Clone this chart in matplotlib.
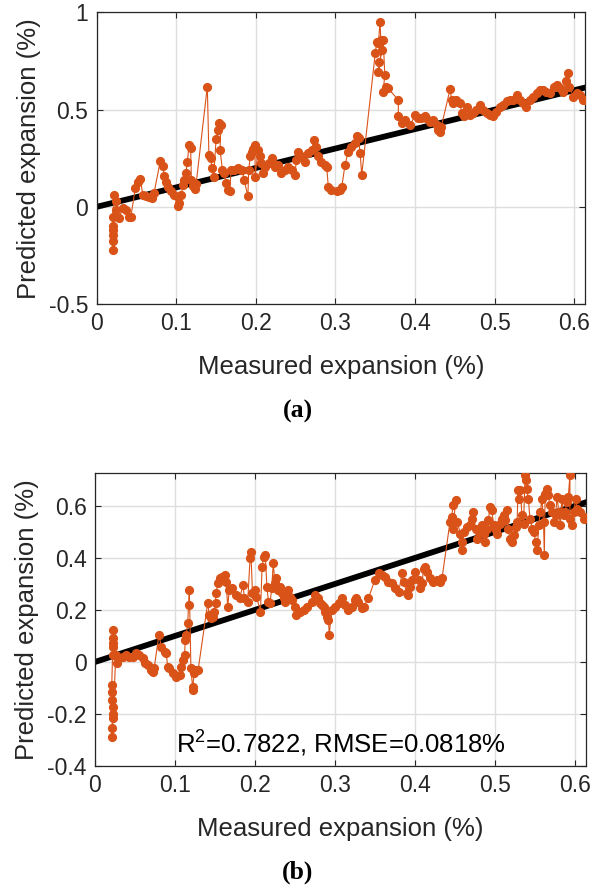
import matplotlib
matplotlib.use('Agg')
import matplotlib.pyplot as plt

plt.rcParams['font.family'] = ['Liberation Sans', 'DejaVu Sans']
plt.rcParams['axes.unicode_minus'] = False
plt.rcParams['mathtext.default'] = 'regular'

# panel (a): measured vs predicted expansion
meas_a = [0.020, 0.020, 0.020, 0.021, 0.021, 0.020, 0.022, 0.024, 0.024, 0.028, 0.033, 0.037, 0.041, 0.043,
          0.0485, 0.0515, 0.0548, 0.058, 0.062, 0.066, 0.0695, 0.072, 0.080, 0.083, 0.085, 0.087, 0.089, 0.093,
          0.0975, 0.102, 0.103, 0.102, 0.106, 0.109, 0.110, 0.112, 0.114, 0.116, 0.118, 0.119, 0.121, 0.123,
          0.125, 0.139, 0.141, 0.143, 0.145, 0.147, 0.150, 0.152, 0.154, 0.156, 0.155, 0.158, 0.160, 0.163,
          0.165, 0.167, 0.169, 0.173, 0.177, 0.181, 0.183, 0.185, 0.190, 0.191, 0.193, 0.195, 0.197, 0.199,
          0.199, 0.203, 0.205, 0.207, 0.209, 0.211, 0.216, 0.220, 0.222, 0.224, 0.228, 0.232, 0.237, 0.241,
          0.245, 0.249, 0.251, 0.253, 0.257, 0.262, 0.266, 0.270, 0.273, 0.276, 0.278, 0.282, 0.287, 0.289,
          0.291, 0.295, 0.302, 0.306, 0.308, 0.312, 0.316, 0.320, 0.325, 0.327, 0.329, 0.331, 0.333,
          0.350, 0.352, 0.354, 0.356, 0.357, 0.359, 0.355, 0.354, 0.360, 0.362, 0.360, 0.364, 0.366, 0.379,
          0.379, 0.383, 0.387, 0.394, 0.400, 0.404, 0.408, 0.412,
          0.414, 0.419, 0.423, 0.427, 0.429, 0.431, 0.433, 0.444, 0.446, 0.448, 0.452, 0.456, 0.459, 0.461,
          0.465, 0.469, 0.473, 0.477, 0.481, 0.486, 0.490, 0.494, 0.498, 0.502, 0.507, 0.511, 0.515, 0.519,
          0.523, 0.528, 0.532, 0.536, 0.540, 0.544, 0.548, 0.553, 0.557, 0.561, 0.565, 0.569, 0.574, 0.578,
          0.582, 0.586, 0.590, 0.592, 0.594, 0.599, 0.603, 0.607, 0.611, 0.613]
pred_a = [-0.221, -0.178, -0.144, -0.118, -0.101, -0.05, 0.062, 0.03, -0.015, -0.057, -0.005, -0.015, -0.05, -0.05,
          0.096, 0.13, 0.142, 0.062, 0.057, 0.053, 0.045, 0.07, 0.238, 0.212, 0.159, 0.13, 0.104, 0.079,
          0.062, 0.053, 0.019, 0.002, 0.062, 0.113, 0.139, 0.173, 0.233, 0.319, 0.302, 0.139, 0.105, 0.09,
          0.12, 0.619, 0.267, 0.252, 0.2, 0.156, 0.348, 0.396, 0.43, 0.42, 0.293, 0.19, 0.173, 0.122,
          0.087, 0.079, 0.19, 0.19, 0.2, 0.19, 0.19, 0.139, 0.057, 0.19, 0.26, 0.28, 0.3, 0.32,
          0.156, 0.293, 0.259, 0.225, 0.173, 0.207, 0.225, 0.25, 0.225, 0.207, 0.216, 0.173, 0.19, 0.207,
          0.19, 0.165, 0.242, 0.284, 0.259, 0.233, 0.276, 0.293, 0.345, 0.31, 0.259, 0.233, 0.216, 0.207,
          0.104, 0.087, 0.079, 0.087, 0.104, 0.216, 0.284, 0.31, 0.328, 0.362, 0.353, 0.276, 0.165,
          0.79, 0.85, 0.842, 0.953, 0.859, 0.808, 0.747, 0.696, 0.859, 0.679, 0.593, 0.619, 0.61, 0.55,
          0.465, 0.43, 0.448, 0.42, 0.473, 0.456, 0.456, 0.465,
          0.456, 0.439, 0.448, 0.422, 0.396, 0.387, 0.413, 0.605, 0.55, 0.533, 0.55, 0.533, 0.482, 0.465,
          0.516, 0.473, 0.482, 0.499, 0.525, 0.499, 0.482, 0.473, 0.465, 0.49, 0.516, 0.525, 0.542, 0.55,
          0.55, 0.576, 0.55, 0.533, 0.516, 0.55, 0.567, 0.585, 0.602, 0.602, 0.593, 0.585, 0.619, 0.628,
          0.611, 0.593, 0.645, 0.688, 0.619, 0.567, 0.585, 0.576, 0.55, 0.55]

# panel (b)
meas_b = [0.022, 0.022, 0.022, 0.022, 0.022, 0.021, 0.021, 0.021, 0.022, 0.022, 0.021, 0.021, 0.023,
          0.026, 0.028, 0.030, 0.035, 0.039, 0.043, 0.047, 0.051, 0.055, 0.060, 0.062, 0.066, 0.070, 0.072,
          0.074, 0.080, 0.083, 0.087, 0.089, 0.091, 0.093, 0.097, 0.101, 0.106, 0.108, 0.110, 0.112, 0.113,
          0.114, 0.116, 0.117, 0.118, 0.120, 0.122, 0.122, 0.124, 0.126, 0.129,
          0.141, 0.143, 0.145, 0.147, 0.149, 0.151, 0.151, 0.154, 0.156, 0.159, 0.162, 0.164, 0.166, 0.168,
          0.172, 0.176, 0.181, 0.185, 0.187, 0.191, 0.194, 0.195, 0.197, 0.200, 0.202, 0.207, 0.209, 0.211,
          0.213, 0.215, 0.217, 0.219, 0.221, 0.223, 0.225, 0.227, 0.229, 0.232, 0.234, 0.236, 0.238, 0.240,
          0.242, 0.244, 0.246, 0.250, 0.252, 0.257, 0.261, 0.265, 0.271, 0.275, 0.279, 0.282, 0.284, 0.286,
          0.288, 0.290, 0.292, 0.293, 0.296, 0.300, 0.305, 0.309, 0.313, 0.317, 0.321, 0.325, 0.327, 0.329,
          0.334, 0.336, 0.342, 0.350, 0.355, 0.359, 0.363, 0.367, 0.371, 0.375, 0.380, 0.384, 0.386, 0.390,
          0.392, 0.394, 0.396, 0.400, 0.405, 0.407, 0.409, 0.411, 0.413, 0.415, 0.419, 0.423, 0.428, 0.432,
          0.434, 0.444, 0.446, 0.448, 0.451, 0.448, 0.453, 0.457, 0.459, 0.459, 0.461, 0.465, 0.469, 0.471,
          0.473, 0.476, 0.478, 0.480, 0.484, 0.486, 0.488, 0.490, 0.492, 0.494, 0.496, 0.499, 0.501, 0.503,
          0.507, 0.509, 0.511, 0.513, 0.515, 0.517, 0.519, 0.522, 0.524, 0.526, 0.528, 0.529, 0.530, 0.532,
          0.534, 0.536, 0.538, 0.539, 0.540, 0.542, 0.544, 0.547, 0.549, 0.551, 0.553, 0.555, 0.557, 0.559,
          0.561, 0.562, 0.563, 0.565, 0.567, 0.569, 0.572, 0.574, 0.576, 0.578, 0.580, 0.582, 0.584, 0.586,
          0.588, 0.590, 0.592, 0.594, 0.594, 0.597, 0.599, 0.601, 0.603, 0.607, 0.611, 0.613]
pred_b = [0.123, 0.091, 0.072, 0.059, 0.027, -0.088, -0.114, -0.146, -0.172, -0.217, -0.255, -0.287, -0.2,
          0.027, -0.005, 0.014, 0.02, 0.027, 0.02, 0.02, 0.033, 0.027, 0.014, -0.005, -0.012, -0.031, -0.037,
          -0.024, 0.104, 0.059, 0.040, 0.033, -0.018, -0.024, -0.044, -0.056, -0.05, -0.018, 0.008, 0.027, 0.085,
          0.104, 0.149, 0.219, 0.277, -0.024, -0.095, -0.108, -0.044, -0.031, -0.031,
          0.226, 0.181, 0.168, 0.174, 0.194, 0.226, 0.264, 0.303, 0.322, 0.328, 0.335, 0.309, 0.213, 0.277,
          0.283, 0.258, 0.245, 0.296, 0.245, 0.232, 0.399, 0.424, 0.264, 0.277, 0.251, 0.194, 0.367, 0.405,
          0.412, 0.29, 0.232, 0.226, 0.283, 0.379, 0.303, 0.322, 0.277, 0.29, 0.264, 0.245, 0.232, 0.245,
          0.277, 0.251, 0.238, 0.213, 0.181, 0.194, 0.2, 0.213, 0.232, 0.258, 0.245, 0.226, 0.219, 0.213,
          0.194, 0.174, 0.162, 0.104, 0.2, 0.213, 0.226, 0.245, 0.219, 0.2, 0.213, 0.238, 0.245, 0.232,
          0.206, 0.213, 0.245, 0.315, 0.341, 0.335, 0.328, 0.309, 0.303, 0.283, 0.27, 0.341, 0.309, 0.264,
          0.258, 0.29, 0.315, 0.347, 0.315, 0.283, 0.303, 0.359, 0.365, 0.346, 0.321, 0.308, 0.314, 0.308,
          0.321, 0.538, 0.558, 0.603, 0.622, 0.513, 0.538, 0.494, 0.462, 0.429, 0.5, 0.519, 0.526, 0.551,
          0.577, 0.513, 0.474, 0.5, 0.526, 0.494, 0.462, 0.513, 0.545, 0.596, 0.583, 0.526, 0.506, 0.494,
          0.532, 0.551, 0.564, 0.545, 0.583, 0.513, 0.474, 0.462, 0.487, 0.519, 0.538, 0.66, 0.628, 0.66,
          0.564, 0.532, 0.72, 0.699, 0.667, 0.628, 0.551, 0.513, 0.5, 0.462, 0.429, 0.526, 0.577, 0.628,
          0.538, 0.410, 0.647, 0.667, 0.641, 0.603, 0.577, 0.538, 0.564, 0.635, 0.577, 0.526, 0.628, 0.564,
          0.577, 0.615, 0.635, 0.718, 0.551, 0.526, 0.577, 0.628, 0.590, 0.577, 0.551, 0.558]

xticks = [0, 0.1, 0.2, 0.3, 0.4, 0.5, 0.6]
xticklabels = ['0', '0.1', '0.2', '0.3', '0.4', '0.5', '0.6']
yticks_a = [-0.5, 0, 0.5, 1]
yticklabels_a = ['-0.5', '0', '0.5', '1']
yticks_b = [-0.4, -0.2, 0, 0.2, 0.4, 0.6]
yticklabels_b = ['-0.4', '-0.2', '0', '0.2', '0.4', '0.6']
stats_text = 'R$^2$=0.7822, RMSE=0.0818%'

orange = '#D95319'
dark = '#262626'
xmax = 0.6135

fig = plt.figure(figsize=(5.91, 8.92), dpi=100)
ax1 = fig.add_axes([0.1636, 0.6592, 0.8262, 0.3268])
ax2 = fig.add_axes([0.1607, 0.1413, 0.8300, 0.3288])


def style(ax, yticks, ylabels, ylim):
    ax.set_xlim(0, xmax)
    ax.set_ylim(*ylim)
    ax.set_xticks(xticks)
    ax.set_xticklabels(xticklabels)
    ax.set_yticks(yticks)
    ax.set_yticklabels(ylabels)
    ax.grid(True, color='#dedede', linewidth=1.0)
    ax.set_axisbelow(True)
    ax.tick_params(direction='in', top=True, right=True, length=4, width=0.8,
                   colors=dark, labelsize=16.5, pad=6)
    for s in ax.spines.values():
        s.set_color(dark)
        s.set_linewidth(0.9)
    ax.set_xlabel('Measured expansion (%)', fontsize=18.5, color=dark)
    ax.set_ylabel('Predicted expansion (%)', fontsize=18.5, color=dark)
    ax.xaxis.set_label_coords(0.5, -0.175)
    ax.yaxis.set_label_coords(-0.115, 0.5)


# panel (a)
ax1.plot([0, xmax], [0, xmax], color='black', linewidth=4.2, zorder=2)
ax1.plot(meas_a, pred_a, '-o', color=orange, linewidth=0.8, markersize=5.6, zorder=3)
style(ax1, yticks_a, yticklabels_a, (-0.5, 1))

# panel (b)
ax2.plot([0, xmax], [0, xmax], color='black', linewidth=4.2, zorder=2)
ax2.plot(meas_b, pred_b, '-o', color=orange, linewidth=0.8, markersize=5.6, zorder=3)
style(ax2, yticks_b, yticklabels_b, (-0.4, 0.728))
ax2.text(0.165, 0.075, stats_text, transform=ax2.transAxes, fontsize=18.5,
         color='black', ha='left', va='center')

fig.text(298 / 591, 1 - 411 / 892, '(a)', ha='center', va='center',
         fontsize=18.5, fontweight='bold', family='Liberation Serif')
fig.text(298 / 591, 1 - 872 / 892, '(b)', ha='center', va='center',
         fontsize=18.5, fontweight='bold', family='Liberation Serif')

fig.savefig('out.png', dpi=100)
